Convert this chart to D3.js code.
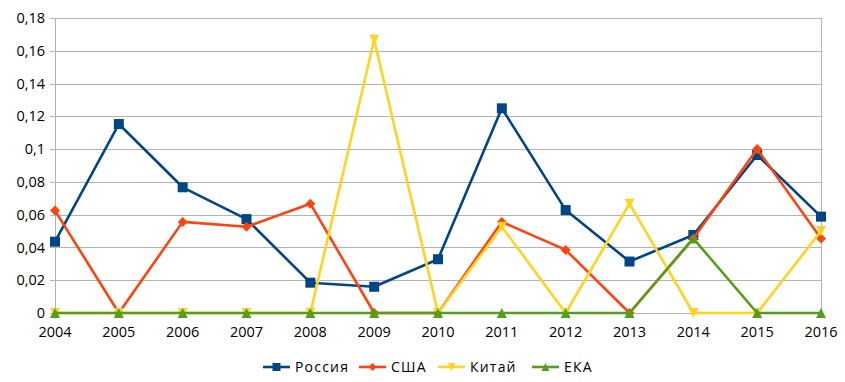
<!DOCTYPE html>
<html><head><meta charset="utf-8">
<script src="https://cdn.jsdelivr.net/npm/d3@7"></script>
<style>body{margin:0;background:#fff;}svg{display:block;font-family:"Open Sans",sans-serif;}</style>
</head><body><svg id="c" width="845" height="382"></svg>
<script>
const years = [2004,2005,2006,2007,2008,2009,2010,2011,2012,2013,2014,2015,2016];
const russia = [0.0435,0.1153,0.0767,0.0573,0.0185,0.016,0.0328,0.1249,0.0628,0.0314,0.0476,0.0964,0.0588];
const usa = [0.0625,0,0.0556,0.0526,0.0667,0,0,0.0556,0.0385,0,0.0455,0.1,0.0455];
const china = [0,0,0,0,0,0.1667,0,0.0526,0,0.0667,0,0,0.05];
const esa = [0,0,0,0,0,0,0,0,0,0,0.0455,0,0];
const yTicks = [0,0.02,0.04,0.06,0.08,0.1,0.12,0.14,0.16,0.18];
const seriesNames = ["Россия","США","Китай","ЕКА"];
const seriesColors = ["#004586","#ff420e","#ffd320","#579d1c"];
const seriesMarkers = ["square","diamond","tdown","tup"];

const svg = d3.select("#c");
const x = d3.scalePoint().domain(years).range([55,821]);
const y = d3.scaleLinear().domain([0,0.18]).range([313,18]);
const fmt = v => String(+v.toFixed(2)).replace(".",",");

// grid
svg.append("g").selectAll("line").data(yTicks).join("line")
  .attr("x1",50).attr("x2",821).attr("y1",d=>Math.round(y(d))+0.5).attr("y2",d=>Math.round(y(d))+0.5)
  .attr("stroke","#b3b3b3").attr("stroke-width",1);
svg.append("line").attr("x1",55.5).attr("x2",55.5).attr("y1",18).attr("y2",313).attr("stroke","#b3b3b3");
svg.append("line").attr("x1",821.5).attr("x2",821.5).attr("y1",18).attr("y2",313).attr("stroke","#b3b3b3");

// y labels
svg.append("g").selectAll("text").data(yTicks).join("text")
  .attr("x",45).attr("y",d=>y(d)).attr("dy","0.35em").attr("text-anchor","end")
  .attr("font-size",14.5).attr("fill","#000").text(fmt);
// x labels
svg.append("g").selectAll("text").data(years).join("text")
  .attr("x",d=>x(d)).attr("y",332).attr("dy","0.35em").attr("text-anchor","middle")
  .attr("font-size",14.5).attr("fill","#000").text(d=>d);

function markerPath(type, s){
  if(type==="square") return `M${-s},${-s}H${s}V${s}H${-s}Z`;
  if(type==="diamond") return `M0,${-s}L${s},0L0,${s}L${-s},0Z`;
  if(type==="tdown") return `M${-s},${-s}H${s}L0,${s}Z`;
  return `M${-s},${s}H${s}L0,${-s}Z`;
}
const data = [russia,usa,china,esa];
const line = d3.line().x((d,i)=>x(years[i])).y(d=>y(d));
data.forEach((vals,k)=>{
  const g = svg.append("g");
  g.append("path").attr("d",line(vals)).attr("fill","none")
    .attr("stroke",seriesColors[k]).attr("stroke-width",2.6).attr("stroke-linejoin","round");
  g.selectAll("path.m").data(vals).join("path").attr("class","m")
    .attr("transform",(d,i)=>`translate(${x(years[i])},${y(d)})`)
    .attr("d",markerPath(seriesMarkers[k],5))
    .attr("fill",seriesColors[k]);
});

// legend
const legX = [263,359,438,532];
const lg = svg.append("g");
seriesNames.forEach((n,k)=>{
  const g = lg.append("g").attr("transform",`translate(${legX[k]},367)`);
  g.append("line").attr("x1",0).attr("x2",27).attr("stroke",seriesColors[k]).attr("stroke-width",2.6);
  g.append("path").attr("transform","translate(13.5,0)").attr("d",markerPath(seriesMarkers[k],4)).attr("fill",seriesColors[k]);
  g.append("text").attr("x",32).attr("dy","0.35em").attr("font-size",14).attr("letter-spacing","1.2px").attr("fill","#000").text(n);
});
</script></body></html>
